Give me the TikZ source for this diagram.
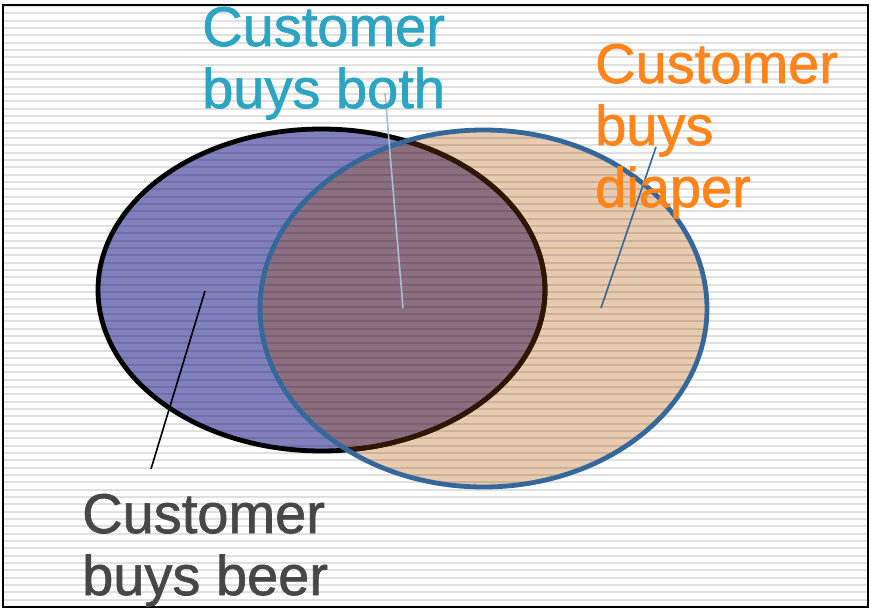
\documentclass[tikz,border=0pt]{standalone}
\usepackage{fontspec}
\setmainfont{Liberation Sans}
\newfontfamily\lblfont[FakeBold=1.2]{Liberation Sans}
\definecolor{beerfill}{RGB}{128,128,191}
\definecolor{diaperfill}{RGB}{233,203,176}
\definecolor{bothfill}{RGB}{139,110,128}
\definecolor{darkbrown}{RGB}{46,22,0}
\definecolor{strokeblue}{RGB}{52,104,154}
\definecolor{tealtext}{RGB}{44,165,194}
\definecolor{orangetext}{RGB}{255,132,25}
\definecolor{graytext}{RGB}{71,71,71}
\definecolor{leadergray}{RGB}{170,190,205}
\tikzset{
  lbl/.style={anchor=base west, inner sep=0pt, align=left, font=\lblfont\fontsize{56}{62}\selectfont},
  leader/.style={line width=1.6pt},
  outline/.style={line width=4.8pt},
}
\begin{document}
\begin{tikzpicture}[x=1pt,y=-1pt]
\useasboundingbox (0,0) rectangle (871,612);
\fill[white] (0,0) rectangle (871,612);
% fills
\fill[beerfill] (321.5,290) ellipse [x radius=223.5, y radius=161];
\fill[diaperfill] (483.5,308.5) ellipse [x radius=223.5, y radius=178.5];
\begin{scope}
  \clip (321.5,290) ellipse [x radius=223.5, y radius=161];
  \fill[bothfill] (483.5,308.5) ellipse [x radius=223.5, y radius=178.5];
\end{scope}
% stripes
\foreach \k in {0,...,81}{
  \draw[black, opacity=0.12, line width=2pt] (4,6+7.33*\k) -- (867,6+7.33*\k);
}
% beer outline
\draw[black, outline] (321.5,290) ellipse [x radius=223.5, y radius=161];
\begin{scope}
  \clip (483.5,308.5) ellipse [x radius=223.5, y radius=178.5];
  \draw[darkbrown, outline] (321.5,290) ellipse [x radius=223.5, y radius=161];
\end{scope}
% diaper outline
\draw[strokeblue, outline] (483.5,308.5) ellipse [x radius=223.5, y radius=178.5];
% leader ends
\coordinate (beerin) at (205,291);
\coordinate (beerout) at (151,469);
\coordinate (bothin) at (403,308);
\coordinate (bothout) at (385,93);
\coordinate (diaperin) at (601,308);
\coordinate (diaperout) at (656,147);
\draw[leader, black] (beerin) -- (beerout);
\draw[leader, leadergray] (bothin) -- (bothout);
\draw[leader, strokeblue] (diaperin) -- (diaperout);
% frame
\draw[black, line width=2pt] (3,5) rectangle (868,607);
% labels (anchor = baseline of last line)
\node[lbl, text=tealtext] (both) at (202,108) {Customer\\buys both};
\node[lbl, text=orangetext] (diaper) at (595,207) {Customer\\buys\\diaper};
\node[lbl, text=graytext] (beer) at (82,595) {Customer\\buys beer};
\end{tikzpicture}
\end{document}
